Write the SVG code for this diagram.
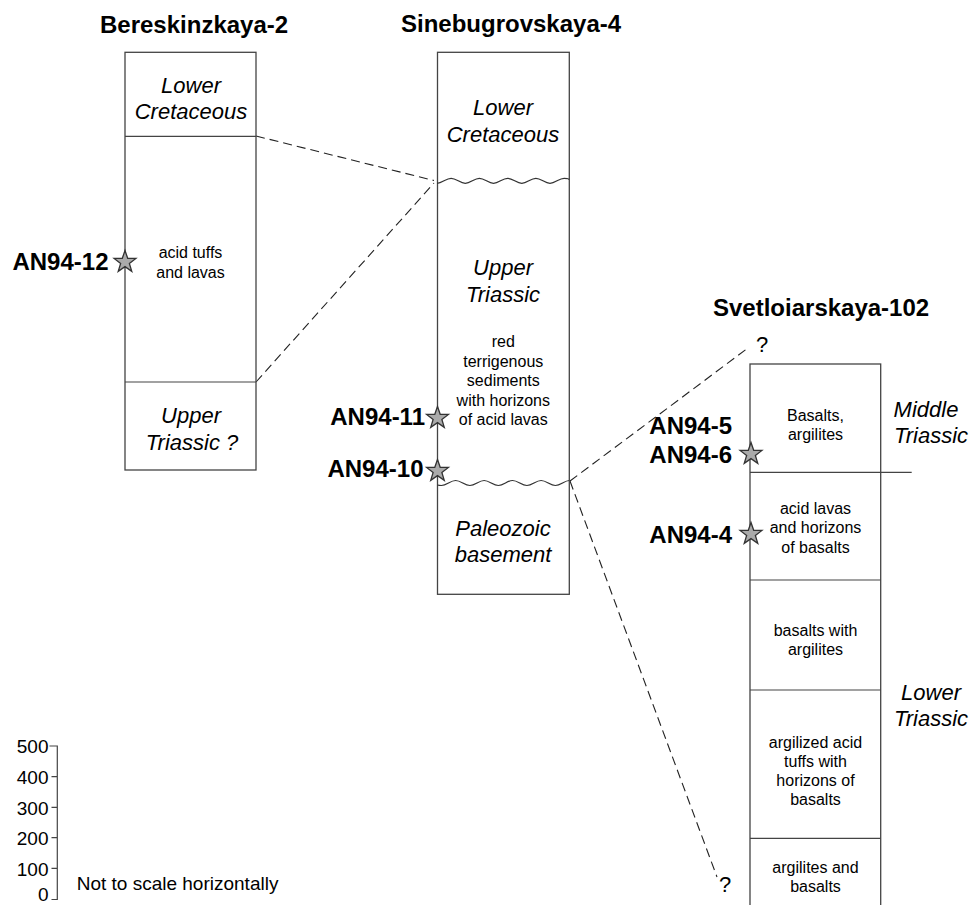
<svg xmlns="http://www.w3.org/2000/svg" width="971" height="905" viewBox="0 0 971 905">
<style>
text{font-family:"Liberation Sans",Arial,Helvetica,sans-serif;fill:#000}
.title{font-size:24px;font-weight:bold}
.sample{font-size:24px;font-weight:bold;text-anchor:end}
.age{font-size:22px;font-style:italic;text-anchor:middle}
.lith{font-size:16px;text-anchor:middle}
.q{font-size:22px;text-anchor:middle}
.scale{font-size:19px}
.col{fill:#fff;stroke:#444;stroke-width:1.3}
.div{stroke:#444;stroke-width:1.2;fill:none}
.wave{stroke:#333;stroke-width:1.2;fill:none}
.dash{stroke:#222;stroke-width:1.1;fill:none;stroke-dasharray:9 5}
.star{fill:#aaa;stroke:#333;stroke-width:1.3;stroke-linejoin:miter}
</style>
<defs>
<path id="star" class="star" d="M0,-11.5 L2.7,-3.7 L10.9,-3.55 L4.37,1.42 L6.76,9.3 L0,4.6 L-6.76,9.3 L-4.37,1.42 L-10.9,-3.55 L-2.7,-3.7 Z"/>
</defs>
<rect width="971" height="905" fill="#fff"/>

<g id="connectors">
<line class="dash" x1="256" y1="136" x2="434" y2="180.5"/>
<line class="dash" x1="256" y1="382" x2="434" y2="183"/>
<line class="dash" x1="570" y1="481" x2="748" y2="348"/>
<line class="dash" x1="570" y1="481" x2="717" y2="877"/>
</g>

<g id="bereskinzkaya-2">
<text class="title" x="100" y="33">Bereskinzkaya-2</text>
<rect class="col" x="125" y="52.3" width="131" height="417.7"/>
<line class="div" x1="125" y1="136.3" x2="256" y2="136.3"/>
<line class="div" x1="125" y1="382" x2="256" y2="382"/>
<text class="age" x="191" y="92.7">Lower</text>
<text class="age" x="191" y="119">Cretaceous</text>
<text class="lith" x="190.5" y="258.3">acid tuffs</text>
<text class="lith" x="190.5" y="277.7">and lavas</text>
<text class="age" x="191" y="423">Upper</text>
<text class="age" x="192" y="450">Triassic ?</text>
</g>

<g id="sinebugrovskaya-4">
<text class="title" x="401" y="32">Sinebugrovskaya-4</text>
<rect class="col" x="437.5" y="52.3" width="131.8" height="542"/>
<path class="wave" d="M437,183.3 C442.1,183.3 446,178.3 451.1,178.3 S460.2,183.3 465.3,183.3 S474.3,178.3 479.4,178.3 S488.4,183.3 493.5,183.3 S502.5,178.3 507.6,178.3 S516.7,183.3 521.8,183.3 S530.8,178.3 535.9,178.3 S544.9,183.3 550,183.3 S559,178.3 564.1,178.3 S567.5,178.8 569.3,179.5"/>
<path class="wave" d="M437.5,485 Q439,485.5 441.4,485.5 C446.6,485.5 450.4,480.5 455.6,480.5 S464.7,485.5 469.9,485.5 S479,480.5 484.1,480.5 S493.2,485.5 498.4,485.5 S507.4,480.5 512.6,480.5 S521.7,485.5 526.9,485.5 S535.9,480.5 541.1,480.5 S550.2,485.5 555.4,485.5 S564.4,480.5 569.3,480.5"/>
<text class="age" x="503" y="115">Lower</text>
<text class="age" x="503" y="141.7">Cretaceous</text>
<text class="age" x="503" y="275">Upper</text>
<text class="age" x="503" y="301.5">Triassic</text>
<text class="lith" x="503.3" y="347">red</text>
<text class="lith" x="503.3" y="366.5">terrigenous</text>
<text class="lith" x="503.3" y="386">sediments</text>
<text class="lith" x="503.3" y="405.5">with horizons</text>
<text class="lith" x="503.3" y="425">of acid lavas</text>
<text class="age" x="503" y="536">Paleozoic</text>
<text class="age" x="503" y="562">basement</text>
</g>

<g id="svetloiarskaya-102">
<text class="title" x="713" y="316">Svetloiarskaya-102</text>
<text class="q" x="762" y="351.7">?</text>
<rect class="col" x="750" y="364" width="130.7" height="560"/>
<line class="div" x1="750" y1="472.3" x2="911.7" y2="472.3"/>
<line class="div" x1="750" y1="580" x2="880.7" y2="580"/>
<line class="div" x1="750" y1="690" x2="880.7" y2="690"/>
<line class="div" x1="750" y1="838.3" x2="880.7" y2="838.3"/>
<text class="lith" x="815.5" y="421">Basalts,</text>
<text class="lith" x="815.5" y="440">argilites</text>
<text class="lith" x="815.5" y="513.5">acid lavas</text>
<text class="lith" x="815.5" y="533">and horizons</text>
<text class="lith" x="815.5" y="552.5">of basalts</text>
<text class="lith" x="815.5" y="636">basalts with</text>
<text class="lith" x="815.5" y="655">argilites</text>
<text class="lith" x="815.5" y="747.5">argilized acid</text>
<text class="lith" x="815.5" y="766.5">tuffs with</text>
<text class="lith" x="815.5" y="785.5">horizons of</text>
<text class="lith" x="815.5" y="804.5">basalts</text>
<text class="lith" x="815.5" y="873">argilites and</text>
<text class="lith" x="815.5" y="892">basalts</text>
<text class="age" x="926" y="416.7">Middle</text>
<text class="age" x="931" y="443.3">Triassic</text>
<text class="age" x="931" y="700">Lower</text>
<text class="age" x="931" y="725.5">Triassic</text>
<text class="q" x="725" y="891.7">?</text>
</g>

<g id="samples">
<g id="AN94-12"><text class="sample" x="108.5" y="270">AN94-12</text><use href="#star" x="125" y="262"/></g>
<g id="AN94-11"><text class="sample" x="425" y="425">AN94-11</text><use href="#star" x="437.5" y="418"/></g>
<g id="AN94-10"><text class="sample" x="423.5" y="476.7">AN94-10</text><use href="#star" x="437.5" y="471"/></g>
<g id="AN94-5-6"><text class="sample" x="732" y="434">AN94-5</text><text class="sample" x="732" y="463.3">AN94-6</text><use href="#star" x="751" y="454"/></g>
<g id="AN94-4"><text class="sample" x="732" y="543.3">AN94-4</text><use href="#star" x="751" y="534"/></g>
</g>

<g id="scale-bar">
<path class="div" d="M49.5,746 H57.3 V899.5 H51.5 M51.5,776.7 H57.3 M51.5,807.3 H57.3 M51.5,837.7 H57.3 M51.5,868.3 H57.3"/>
<text class="scale" x="48.5" y="753.3" text-anchor="end">500</text>
<text class="scale" x="48.5" y="784" text-anchor="end">400</text>
<text class="scale" x="48.5" y="814.6" text-anchor="end">300</text>
<text class="scale" x="48.5" y="845" text-anchor="end">200</text>
<text class="scale" x="48.5" y="875.6" text-anchor="end">100</text>
<text class="scale" x="48.5" y="901" text-anchor="end">0</text>
<text class="scale" x="76.7" y="890">Not to scale horizontally</text>
</g>
</svg>
